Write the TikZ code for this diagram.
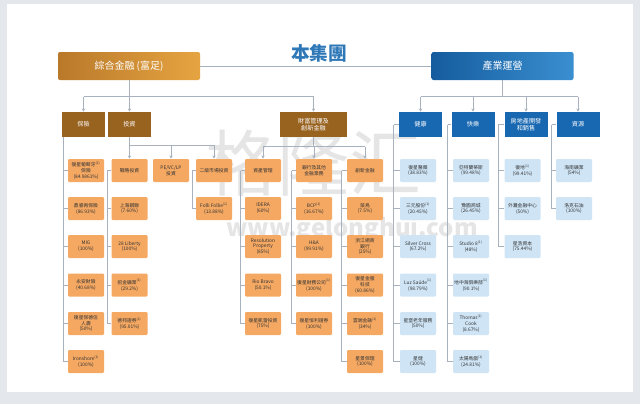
\documentclass[tikz,border=0pt]{standalone}
\usepackage{fontspec}
\setmainfont{Noto Sans CJK TC}
\usetikzlibrary{calc,arrows.meta}
\definecolor{orc}{HTML}{F5A862}
\definecolor{lbl}{HTML}{CFE5F6}
\definecolor{brn}{HTML}{98621F}
\definecolor{dbl}{HTML}{1767B1}
\definecolor{lnc}{HTML}{A8B2BE}
\definecolor{ttc}{HTML}{2E78B8}
\definecolor{bgc}{HTML}{E4E7EC}
\definecolor{gA}{HTML}{B9792A}
\definecolor{gB}{HTML}{E6A441}
\definecolor{bA}{HTML}{155C9E}
\definecolor{bB}{HTML}{3A8FD0}
\tikzset{
  obox/.style={fill=orc, minimum width=27pt, minimum height=17.25pt, inner sep=0.5pt,
    align=center, font=\fontsize{3.6}{4.4}\selectfont, text=black!80, rounded corners=0.8pt},
  ubox/.style={obox, fill=lbl},
  ltwo/.style={fill=brn, minimum width=32.25pt, minimum height=18.75pt, inner sep=0.5pt,
    text=white, align=center, font=\fontsize{4.6}{5.6}\selectfont},
  ltwob/.style={ltwo, fill=dbl},
  hdr/.style={minimum width=106.5pt, minimum height=21pt, rounded corners=1.5pt,
    text=white, font=\fontsize{7.5}{8}\selectfont},
  ln/.style={draw=lnc, line width=0.55pt},
  arr/.style={ln, -{Stealth[length=2.4pt,width=2.4pt]}},
}
\begin{document}
\begin{tikzpicture}[x=0.75pt,y=-0.75pt]
\useasboundingbox (0,0) rectangle (640,404);
\fill[bgc] (0,0) rectangle (640,404);
\fill[white] (7,4) rectangle (633,392);
% watermark
\node[text=gray!20, font=\fontsize{54}{54}\selectfont] (wmk) at (313,163) {格隆汇};
\node[text=gray!20, font=\fontsize{18}{18}\selectfont\bfseries] (wmu) at (352,229) {www.gelonghui.com};
% title and headers
\node[text=ttc, font=\fontsize{14}{14}\selectfont\bfseries] (tt) at (319,53) {本集團};
\node[hdr, left color=gA, right color=gB] (hL) at (129,66) {綜合金融 (富足)};
\node[hdr, left color=bA, right color=bB] (hR) at (502.5,66) {產業運營};
\draw[ln] (hL.east) -- (hR.west);
% level 2
\node[ltwo] (ins) at (83.5,124.5) {保險};
\node[ltwo] (inv) at (129.5,124.5) {投資};
\node[ltwo, minimum width=50.25pt] (wm) at (313.5,124.5) {財富管理及\\創新金融};
\node[ltwob] (hl) at (420.5,124.5) {健康};
\node[ltwob] (hp) at (473,124.5) {快樂};
\node[ltwob] (pr) at (526,124.5) {房地產開發\\和銷售};
\node[ltwob] (rs) at (578,124.5) {資源};
% insurance
\node[obox] (i1) at (86,170.5) {復星葡萄牙\textsuperscript{(1)}\\保險\\(84.9861\%)};
\node[obox] (i2) at (86,208.5) {鼎睿再保險\\(86.93\%)};
\node[obox] (i3) at (86,246.5) {MIG\\(100\%)};
\node[obox] (i4) at (86,285) {永安財險\\(40.68\%)};
\node[obox] (i5) at (86,323.5) {復星保德信\\人壽\\(50\%)};
\node[obox] (i6) at (86,361.5) {Ironshore\textsuperscript{(1)}\\(100\%)};
% investment
\node[obox] (st) at (129.5,170.5) {戰略投資};
\node[obox] (s2) at (129.5,208.5) {上海鋼聯\\(7.60\%)};
\node[obox] (s3) at (129.5,246.5) {28 Liberty\\(100\%)};
\node[obox] (s4) at (129.5,285) {招金礦業\textsuperscript{(1)}\\(29.2\%)};
\node[obox] (s5) at (129.5,323.5) {德邦證券\textsuperscript{(1)}\\(95.01\%)};
\node[obox] (pe) at (171,170.5) {PE/VC/LP\\投資};
\node[obox] (sm) at (214,170.5) {二級市場投資};
\node[obox] (ff) at (214,208.5) {Folli Follie\textsuperscript{(1)}\\(13.88\%)};
% wealth management
\node[obox] (am) at (263,170.5) {資產管理};
\node[obox] (a2) at (263,208.5) {IDERA\\(60\%)};
\node[obox] (a3) at (263,246.5) {Resolution\\Property\\(85\%)};
\node[obox] (a4) at (263,285) {Rio Bravo\\(50.1\%)};
\node[obox] (a5) at (263,323.5) {復星凱雷投資\\(75\%)};
\node[obox] (bk) at (314,170.5) {銀行及其他\\金融業務};
\node[obox] (b2) at (314,208.5) {BCP\textsuperscript{(1)}\\(16.67\%)};
\node[obox] (b3) at (314,246.5) {H\&A\\(99.91\%)};
\node[obox] (b4) at (314,285) {復星財務公司\textsuperscript{(1)}\\(100\%)};
\node[obox] (b5) at (314,323.5) {復星恒利證券\\(100\%)};
\node[obox] (cf) at (365,170.5) {創新金融};
\node[obox] (c2) at (365,208.5) {菜鳥\\(7.5\%)};
\node[obox] (c3) at (365,246.5) {浙江網商\\銀行\\(25\%)};
\node[obox] (c4) at (365,285) {復星金服\\科技\\(60.86\%)};
\node[obox] (c5) at (365,323.5) {雲端金融\textsuperscript{(1)}\\(34\%)};
\node[obox] (c6) at (365,361.5) {星景保理\\(100\%)};
% health
\node[ubox] (h1) at (418,170.5) {復星醫藥\\(38.83\%)};
\node[ubox] (h2) at (418,208.5) {三元股份\textsuperscript{(1)}\\(20.45\%)};
\node[ubox] (h3) at (418,246.5) {Silver Cross\\(67.2\%)};
\node[ubox] (h4) at (418,285) {Luz Saúde\textsuperscript{(1)}\\(98.79\%)};
\node[ubox] (h5) at (418,323.5) {星堡老年服務\\(50\%)};
\node[ubox] (h6) at (418,361.5) {星健\\(100\%)};
% happiness
\node[ubox] (p1) at (471,170.5) {亞特蘭蒂斯\\(99.48\%)};
\node[ubox] (p2) at (471,208.5) {豫園商城\\(26.45\%)};
\node[ubox] (p3) at (471,246.5) {Studio 8\textsuperscript{(1)}\\(48\%)};
\node[ubox] (p4) at (471,285) {地中海俱樂部\textsuperscript{(1)}\\(90.1\%)};
\node[ubox] (p5) at (471,323.5) {Thomas\textsuperscript{(1)}\\Cook\\(8.67\%)};
\node[ubox] (p6) at (471,361.5) {太陽馬戲\textsuperscript{(1)}\\(24.81\%)};
% property
\node[ubox] (r1) at (522.5,170.5) {復地\textsuperscript{(1)}\\(99.41\%)};
\node[ubox] (r2) at (522.5,208.5) {外灘金融中心\\(50\%)};
\node[ubox] (r3) at (522.5,246.5) {星浩資本\\(75.44\%)};
% resources
\node[ubox] (q1) at (574,170.5) {海南礦業\\(54\%)};
\node[ubox] (q2) at (574,208.5) {洛克石油\\(100\%)};
% main trees
\coordinate (bL) at (0,96.5);
\draw[ln] (hL.south) -- (hL.south |- bL);
\draw[ln] (ins.north |- bL) -- (wm.north |- bL);
\foreach \n in {ins,inv,wm} \draw[arr] (\n.north |- bL) -- (\n.north);
\draw[ln] (hR.south) -- (hR.south |- bL);
\draw[ln] (hl.north |- bL) -- (rs.north |- bL);
\foreach \n in {hl,hp,pr,rs} \draw[arr] (\n.north |- bL) -- (\n.north);
% investment subtree
\coordinate (bI) at (0,145);
\draw[ln] (inv.south) -- (inv.south |- bI);
\draw[ln] (st.north |- bI) -- (sm.north |- bI);
\foreach \n in {st,pe,sm} \draw[arr] (\n.north |- bI) -- (\n.north);
% wealth subtree
\coordinate (bW) at (0,146.5);
\draw[ln] (wm.south) -- (wm.south |- bW);
\draw[ln] (am.north |- bW) -- (cf.north |- bW);
\foreach \n in {am,bk,cf} \draw[arr] (\n.north |- bW) -- (\n.north);
% spines
\coordinate (sI) at ($(i1.west)+(-4,0)$);
\draw[ln] (sI |- ins.south) -- (sI |- i6.west);
\foreach \c in {i1,i2,i3,i4,i5,i6} \draw[ln] (sI |- \c.west) -- (\c.west);
\coordinate (sS) at ($(st.west)+(-4,0)$);
\draw[ln] (sS |- st.west) -- (sS |- s5.west);
\foreach \c in {st,s2,s3,s4,s5} \draw[ln] (sS |- \c.west) -- (\c.west);
\coordinate (sF) at ($(sm.west)+(-3,0)$);
\draw[ln] (sm.west) -- (sF |- sm.west) -- (sF |- ff.west) -- (ff.west);
\coordinate (sA) at ($(am.west)+(-4,0)$);
\draw[ln] (sA |- am.west) -- (sA |- a5.west);
\foreach \c in {am,a2,a3,a4,a5} \draw[ln] (sA |- \c.west) -- (\c.west);
\coordinate (sB) at ($(bk.west)+(-4,0)$);
\draw[ln] (sB |- bk.west) -- (sB |- b5.west);
\foreach \c in {bk,b2,b3,b4,b5} \draw[ln] (sB |- \c.west) -- (\c.west);
\coordinate (sC) at ($(cf.west)+(-5,0)$);
\draw[ln] (sC |- cf.west) -- (sC |- c6.west);
\foreach \c in {cf,c2,c3,c4,c5,c6} \draw[ln] (sC |- \c.west) -- (\c.west);
\coordinate (sH) at ($(h1.west)+(-6,0)$);
\draw[ln] (sH |- hl.west) -- (sH |- h6.west);
\foreach \c in {hl,h1,h2,h3,h4,h5,h6} \draw[ln] (sH |- \c.west) -- (\c.west);
\coordinate (sP) at ($(p1.west)+(-5,0)$);
\draw[ln] (sP |- hp.west) -- (sP |- p6.west);
\foreach \c in {hp,p1,p2,p3,p4,p5,p6} \draw[ln] (sP |- \c.west) -- (\c.west);
\coordinate (sR) at ($(r1.west)+(-6,0)$);
\draw[ln] (sR |- pr.west) -- (sR |- r3.west);
\foreach \c in {pr,r1,r2,r3} \draw[ln] (sR |- \c.west) -- (\c.west);
\coordinate (sQ) at ($(q1.west)+(-4,0)$);
\draw[ln] (sQ |- rs.west) -- (sQ |- q2.west);
\foreach \c in {rs,q1,q2} \draw[ln] (sQ |- \c.west) -- (\c.west);
\end{tikzpicture}
\end{document}
